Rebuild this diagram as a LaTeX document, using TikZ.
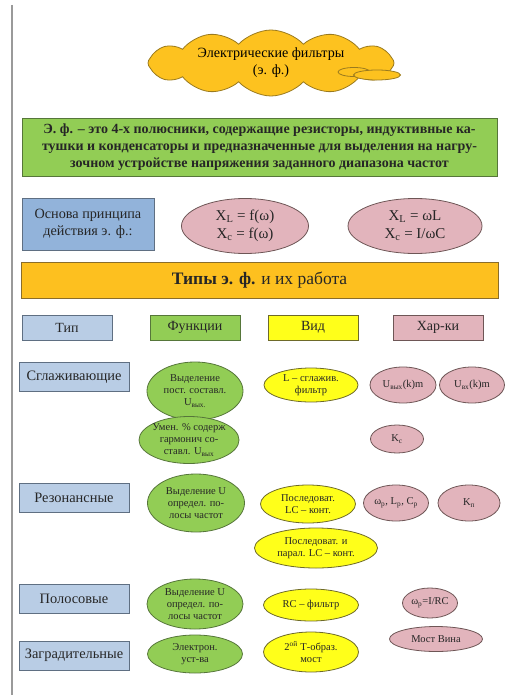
\documentclass[tikz,border=0pt]{standalone}
\usepackage{fontspec}
\setmainfont{Liberation Serif}
\usetikzlibrary{shapes.geometric,shapes.symbols}

\definecolor{gold}{HTML}{FDC21F}
\definecolor{goldd}{HTML}{9A7A1E}
\definecolor{grn}{HTML}{92CD55}
\definecolor{grnd}{HTML}{56763A}
\definecolor{blu}{HTML}{92B3DA}
\definecolor{blul}{HTML}{B9CDE5}
\definecolor{blud}{HTML}{5F6F82}
\definecolor{ylw}{HTML}{FFFF1A}
\definecolor{ylwd}{HTML}{6E6A2A}
\definecolor{pnk}{HTML}{E2B4BC}
\definecolor{pnkd}{HTML}{6E5656}
\definecolor{org}{HTML}{FDC01F}
\definecolor{orgd}{HTML}{8A6D2A}
\definecolor{rule}{HTML}{9A9A9A}

\newcommand{\fs}[1]{\fontsize{#1pt}{\dimexpr #1pt*6/5\relax}\selectfont}
\newcommand{\fsn}[1]{\fontsize{#1pt}{\dimexpr #1pt*23/20\relax}\selectfont}

\tikzset{
  base/.style={inner sep=0pt, line width=0.8pt, align=center, text=black!85},
  rbox/.style={base, rectangle},
  ell/.style={base, ellipse, inner sep=-6pt, font=\fsn{10.5}},
  typebox/.style={rbox, fill=blul, draw=blud, minimum width=110pt, minimum height=29pt, font=\fs{14.4}},
  headbox/.style={rbox, minimum width=90pt, minimum height=25pt, font=\fs{14}},
  gell/.style={ell, fill=grn, draw=grnd},
  yell/.style={ell, fill=ylw, draw=ylwd},
  pell/.style={ell, fill=pnk, draw=pnkd},
}

\begin{document}
\begin{tikzpicture}[x=1pt,y=-1pt]
\useasboundingbox (0,0) rectangle (517,695);

% left margin rule
\coordinate (ruletop) at (12,5);
\coordinate (rulebot) at (12,695);
\draw[rule, line width=1.3pt] (ruletop) -- (rulebot);

% title cloud with its trailing puffs
\node[cloud, cloud puffs=12, cloud puff arc=95, aspect=4.6, fill=gold, draw=goldd,
      line width=0.8pt, inner sep=-4pt, minimum width=246pt, minimum height=66pt,
      align=center, font=\fs{14.1}] (cloud) at (271,63)
      {Электрические фильтры\\(э. ф.)};
\node[ellipse, fill=gold, draw=goldd, line width=0.8pt, minimum width=32pt, minimum height=9pt, inner sep=0pt] (puffa) at (354,72) {};
\node[ellipse, fill=gold, draw=goldd, line width=0.8pt, minimum width=47pt, minimum height=10pt, inner sep=0pt] (puffb) at (377,75) {};

% definition banner
\node[rbox, fill=grn, draw=grnd, minimum width=475pt, minimum height=58pt,
      font=\bfseries\fs{14}, align=center] (defn) at (259.5,147)
  {Э. ф. – это 4-х полюсники, содержащие резисторы, индуктивные ка-\\
   тушки и конденсаторы и предназначенные для выделения на нагру-\\
   зочном устройстве напряжения заданного диапазона частот};

% operating principle
\node[rbox, fill=blu, draw=blud, minimum width=132pt, minimum height=52pt, font=\fs{14.2}] (basis) at (88,224)
  {Основа принципа\\действия э. ф.:};
\node[pell, minimum width=127pt, minimum height=55pt, font=\fs{15}] (fx) at (245,226)
  {X\textsubscript{L} = f(ω)\\X\textsubscript{c} = f(ω)};
\node[pell, minimum width=134pt, minimum height=55pt, font=\fs{15}] (fl) at (415,226)
  {X\textsubscript{L} = ωL\\X\textsubscript{c} = I/ωC};

% section header
\node[rbox, fill=org, draw=orgd, minimum width=477pt, minimum height=36pt, font=\fs{17.5}] (types) at (259.5,280)
  {\textbf{Типы э. ф.} и их работа};

% column headers
\node[headbox, fill=blul, draw=blud] (hType) at (67,327.5) {Тип};
\node[headbox, fill=grn, draw=grnd] (hFunc) at (195,327.5) {Функции};
\node[headbox, fill=ylw, draw=ylwd] (hView) at (313,327.5) {Вид};
\node[headbox, fill=pnk, draw=pnkd] (hChar) at (438,327.5) {Хар-ки};

% smoothing filters
\node[typebox] (tSmooth) at (74,377) {Сглаживающие};
\node[gell, minimum width=96pt, minimum height=58pt] (fSmooth) at (195,391)
  {Выделение\\пост. составл.\\U\textsubscript{вых.}};
\node[yell, minimum width=94pt, minimum height=34pt] (vSmooth) at (311,385)
  {L – сглажив.\\фильтр};
\node[pell, minimum width=66pt, minimum height=36pt] (cOut) at (403,385)
  {U\textsubscript{вых}(k)m};
\node[pell, minimum width=65pt, minimum height=36pt] (cIn) at (472,385)
  {U\textsubscript{вх}(k)m};
\node[gell, minimum width=100pt, minimum height=47pt] (fHarm) at (189,440)
  {Умен. \% содерж\\гармонич со-\\ставл. U\textsubscript{вых}};
\node[pell, minimum width=53pt, minimum height=28pt] (cKs) at (397,439)
  {K\textsubscript{с}};

% resonant filters
\node[typebox] (tRes) at (74,497.5) {Резонансные};
\node[gell, minimum width=97pt, minimum height=58pt] (fRes) at (196,503)
  {Выделение U\\определ. по-\\лосы частот};
\node[yell, minimum width=95pt, minimum height=38pt] (vRes) at (308,504)
  {Последоват.\\LC – конт.};
\node[pell, minimum width=65pt, minimum height=36pt] (cRes) at (396,503)
  {ω\textsubscript{р}, L\textsubscript{р}, C\textsubscript{р}};
\node[pell, minimum width=62pt, minimum height=36pt] (cKp) at (469,503)
  {K\textsubscript{п}};
\node[yell, minimum width=123pt, minimum height=40pt] (vRes2) at (316,548)
  {Последоват. и\\парал. LC – конт.};

% band-pass filters
\node[typebox] (tBand) at (74,599) {Полосовые};
\node[gell, minimum width=96pt, minimum height=50pt] (fBand) at (195,604)
  {Выделение U\\определ. по-\\лосы частот};
\node[yell, minimum width=95pt, minimum height=32pt] (vBand) at (311,605)
  {RC – фильтр};
\node[pell, minimum width=55pt, minimum height=30pt] (cBand) at (430,603)
  {ω\textsubscript{р}=I/RC};

% band-stop filters
\node[typebox] (tStop) at (74,655.5) {Заградительные};
\node[gell, minimum width=95pt, minimum height=38pt] (fStop) at (195,654)
  {Электрон.\\уст-ва};
\node[yell, minimum width=95pt, minimum height=40pt] (vStop) at (311,652)
  {2\textsuperscript{ой} Т-образ.\\мост};
\node[pell, minimum width=93pt, minimum height=25pt] (cStop) at (436,639)
  {Мост Вина};
\end{tikzpicture}
\end{document}
